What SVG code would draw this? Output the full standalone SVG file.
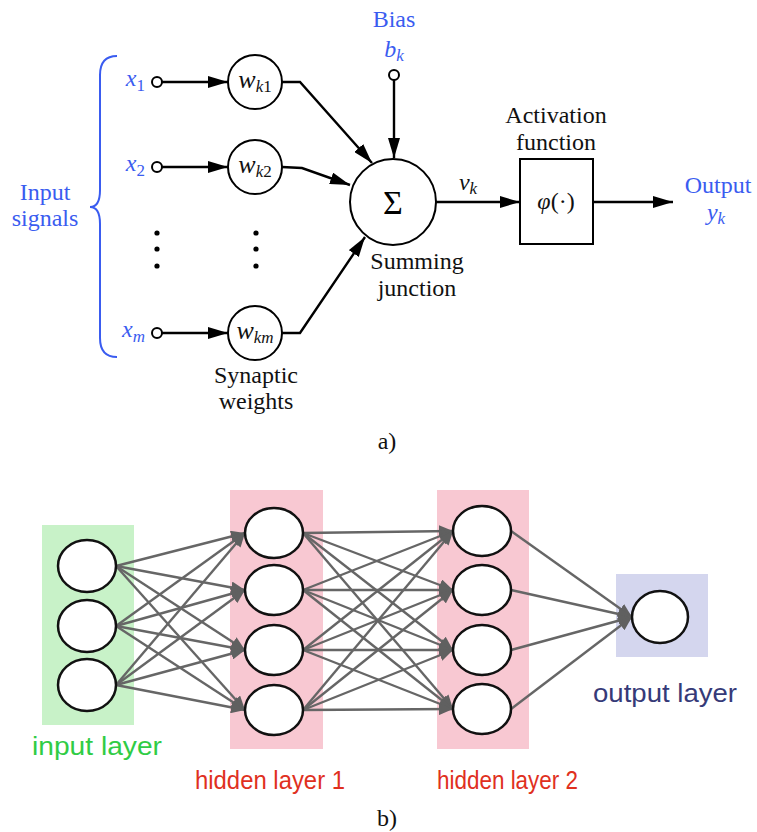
<svg xmlns="http://www.w3.org/2000/svg" width="757" height="832" viewBox="0 0 757 832">
  <defs>
    <marker id="arrowBlack" viewBox="0 0 20 12" refX="20" refY="6" markerWidth="20" markerHeight="12" markerUnits="userSpaceOnUse" orient="auto">
      <path d="M0,0 L20,6 L0,12 Z" fill="#000"/>
    </marker>
    <marker id="arrowGray" viewBox="0 0 14 12" refX="14" refY="6" markerWidth="14" markerHeight="12" markerUnits="userSpaceOnUse" orient="auto">
      <path d="M0,0 L14,6 L0,12 Z" fill="#606060"/>
    </marker>
    <style>
      .serif { font-family: "Liberation Serif", "Times New Roman", serif; font-size: 24px; }
      .blue { fill: #3a5cf0; }
      .ink { fill: #111; }
      .it { font-style: italic; }
      .sub { font-size: 17px; }
      .wlabel { font-size: 26px; }
      .wire { fill: none; stroke: #000; stroke-width: 2.4; }
      .term { fill: #fff; stroke: #000; stroke-width: 2; }
      .unit { fill: #fff; stroke: #000; stroke-width: 2; }
      .edge { fill: none; stroke: #666; stroke-width: 2.4; marker-end: url(#arrowGray); }
      .neuron { fill: #fff; stroke: #111; stroke-width: 2.5; }
      .sans { font-family: "Liberation Sans", Arial, sans-serif; font-size: 25px; }
    </style>
  </defs>

  <!-- ===== a) single neuron model ===== -->
  <g id="input-signals">
    <path d="M117,56 Q100,56 100,75 L100,190 Q100,207 90,207 Q100,207 100,224 L100,338 Q100,357 117,357" fill="none" stroke="#3a5cf0" stroke-width="2"/>
    <text class="serif blue" x="45" y="200" text-anchor="middle">Input</text>
    <text class="serif blue" x="45" y="226" text-anchor="middle">signals</text>
  </g>

  <g id="x1">
    <text class="serif blue" x="145" y="86" text-anchor="end"><tspan class="it">x</tspan><tspan class="sub" dy="5">1</tspan></text>
    <circle class="term" cx="157" cy="82" r="5"/>
  </g>
  <g id="x2">
    <text class="serif blue" x="145" y="171" text-anchor="end"><tspan class="it">x</tspan><tspan class="sub" dy="5">2</tspan></text>
    <circle class="term" cx="157" cy="167" r="5"/>
  </g>
  <g id="xm">
    <text class="serif blue" x="145" y="337" text-anchor="end"><tspan class="it">x</tspan><tspan class="sub it" dy="5">m</tspan></text>
    <circle class="term" cx="157" cy="333" r="5"/>
  </g>

  <g id="ellipsis">
    <circle cx="157" cy="233" r="2.6" fill="#000"/>
    <circle cx="157" cy="249" r="2.6" fill="#000"/>
    <circle cx="157" cy="266" r="2.6" fill="#000"/>
    <circle cx="256" cy="233" r="2.6" fill="#000"/>
    <circle cx="256" cy="249" r="2.6" fill="#000"/>
    <circle cx="256" cy="266" r="2.6" fill="#000"/>
  </g>

  <g id="wk1">
    <circle class="unit" cx="255" cy="82" r="27"/>
    <text class="serif ink" x="255" y="88" text-anchor="middle"><tspan class="it wlabel">w</tspan><tspan class="sub" dy="4"><tspan class="it">k</tspan>1</tspan></text>
  </g>
  <g id="wk2">
    <circle class="unit" cx="255" cy="167" r="27"/>
    <text class="serif ink" x="255" y="173" text-anchor="middle"><tspan class="it wlabel">w</tspan><tspan class="sub" dy="4"><tspan class="it">k</tspan>2</tspan></text>
  </g>
  <g id="wkm">
    <circle class="unit" cx="255" cy="333" r="27"/>
    <text class="serif ink" x="255" y="339" text-anchor="middle"><tspan class="it wlabel">w</tspan><tspan class="sub it" dy="4">km</tspan></text>
  </g>
  <g id="synaptic-label">
    <text class="serif ink" x="256" y="383" text-anchor="middle">Synaptic</text>
    <text class="serif ink" x="256" y="409" text-anchor="middle">weights</text>
  </g>

  <g id="bias">
    <text class="serif blue" x="394" y="27" text-anchor="middle">Bias</text>
    <text class="serif blue it" x="394" y="57" text-anchor="middle">b<tspan class="sub" dy="4">k</tspan></text>
    <circle class="term" cx="394" cy="75" r="5"/>
  </g>

  <g id="summing-junction">
    <circle class="unit" cx="393" cy="202" r="43"/>
    <text x="393" y="214" text-anchor="middle" font-family="Liberation Serif, serif" font-size="34" fill="#000">Σ</text>
    <text class="serif ink" x="417" y="269" text-anchor="middle">Summing</text>
    <text class="serif ink" x="417" y="296" text-anchor="middle">junction</text>
  </g>

  <g id="vk-label">
    <text class="serif ink it" x="468" y="190" text-anchor="middle">v<tspan class="sub" dy="4">k</tspan></text>
  </g>

  <g id="activation">
    <text class="serif ink" x="556" y="123" text-anchor="middle">Activation</text>
    <text class="serif ink" x="556" y="150" text-anchor="middle">function</text>
    <rect x="520" y="159" width="73" height="85" fill="#fff" stroke="#000" stroke-width="2"/>
    <text class="serif ink" x="556" y="209" text-anchor="middle"><tspan class="it">φ</tspan>(·)</text>
  </g>

  <g id="output">
    <text class="serif blue" x="718" y="193" text-anchor="middle">Output</text>
    <text class="serif blue it" x="716" y="220" text-anchor="middle">y<tspan class="sub" dy="4">k</tspan></text>
  </g>

  <g id="neuron-connectors">
    <line class="wire" x1="162" y1="82" x2="228" y2="82" marker-end="url(#arrowBlack)"/>
    <line class="wire" x1="162" y1="167" x2="228" y2="167" marker-end="url(#arrowBlack)"/>
    <line class="wire" x1="162" y1="333" x2="228" y2="333" marker-end="url(#arrowBlack)"/>
    <polyline class="wire" points="282,82 300,82 372,163" marker-end="url(#arrowBlack)"/>
    <polyline class="wire" points="282,167 302,168 350,185" marker-end="url(#arrowBlack)"/>
    <polyline class="wire" points="282,333 300,333 365,237" marker-end="url(#arrowBlack)"/>
    <line class="wire" x1="394" y1="80" x2="394" y2="158" marker-end="url(#arrowBlack)"/>
    <line class="wire" x1="436" y1="202" x2="520" y2="202" marker-end="url(#arrowBlack)"/>
    <line class="wire" x1="593" y1="202" x2="673" y2="202" marker-end="url(#arrowBlack)"/>
  </g>

  <text class="serif ink" x="387" y="449" text-anchor="middle">a)</text>

  <!-- ===== b) multilayer network ===== -->
  <g id="layer-bands">
    <rect x="42" y="525" width="92" height="200" fill="#c8f2c8"/>
    <rect x="230" y="490" width="93" height="259" fill="#f8c8d2"/>
    <rect x="437" y="490" width="92" height="259" fill="#f8c8d2"/>
    <rect x="616" y="574" width="92" height="83" fill="#d4d6ee"/>
  </g>

  <g id="network-connectors">
    <!-- input -> hidden 1 -->
    <line class="edge" x1="116" y1="566" x2="245" y2="533"/>
    <line class="edge" x1="116" y1="566" x2="245" y2="590"/>
    <line class="edge" x1="116" y1="566" x2="245" y2="650"/>
    <line class="edge" x1="116" y1="566" x2="245" y2="710"/>
    <line class="edge" x1="116" y1="626" x2="245" y2="533"/>
    <line class="edge" x1="116" y1="626" x2="245" y2="590"/>
    <line class="edge" x1="116" y1="626" x2="245" y2="650"/>
    <line class="edge" x1="116" y1="626" x2="245" y2="710"/>
    <line class="edge" x1="116" y1="685" x2="245" y2="533"/>
    <line class="edge" x1="116" y1="685" x2="245" y2="590"/>
    <line class="edge" x1="116" y1="685" x2="245" y2="650"/>
    <line class="edge" x1="116" y1="685" x2="245" y2="710"/>
    <!-- hidden 1 -> hidden 2 -->
    <line class="edge" x1="303" y1="533" x2="453" y2="531"/>
    <line class="edge" x1="303" y1="533" x2="453" y2="590"/>
    <line class="edge" x1="303" y1="533" x2="453" y2="650"/>
    <line class="edge" x1="303" y1="533" x2="453" y2="709"/>
    <line class="edge" x1="303" y1="590" x2="453" y2="531"/>
    <line class="edge" x1="303" y1="590" x2="453" y2="590"/>
    <line class="edge" x1="303" y1="590" x2="453" y2="650"/>
    <line class="edge" x1="303" y1="590" x2="453" y2="709"/>
    <line class="edge" x1="303" y1="650" x2="453" y2="531"/>
    <line class="edge" x1="303" y1="650" x2="453" y2="590"/>
    <line class="edge" x1="303" y1="650" x2="453" y2="650"/>
    <line class="edge" x1="303" y1="650" x2="453" y2="709"/>
    <line class="edge" x1="303" y1="710" x2="453" y2="531"/>
    <line class="edge" x1="303" y1="710" x2="453" y2="590"/>
    <line class="edge" x1="303" y1="710" x2="453" y2="650"/>
    <line class="edge" x1="303" y1="710" x2="453" y2="709"/>
    <!-- hidden 2 -> output -->
    <line class="edge" x1="511" y1="531" x2="632" y2="617"/>
    <line class="edge" x1="511" y1="590" x2="632" y2="617"/>
    <line class="edge" x1="511" y1="650" x2="632" y2="617"/>
    <line class="edge" x1="511" y1="709" x2="632" y2="617"/>
  </g>

  <g id="input-layer">
    <ellipse class="neuron" cx="87" cy="566" rx="29" ry="26"/>
    <ellipse class="neuron" cx="87" cy="626" rx="29" ry="26"/>
    <ellipse class="neuron" cx="87" cy="685" rx="29" ry="26"/>
    <text class="sans" x="32" y="755" fill="#30cc45" textLength="130" lengthAdjust="spacingAndGlyphs">input layer</text>
  </g>

  <g id="hidden-layer-1">
    <ellipse class="neuron" cx="274" cy="533" rx="29" ry="25"/>
    <ellipse class="neuron" cx="274" cy="590" rx="29" ry="25"/>
    <ellipse class="neuron" cx="274" cy="650" rx="29" ry="25"/>
    <ellipse class="neuron" cx="274" cy="710" rx="29" ry="25"/>
    <text class="sans" x="195" y="789" fill="#e0301e" textLength="150" lengthAdjust="spacingAndGlyphs">hidden layer 1</text>
  </g>

  <g id="hidden-layer-2">
    <ellipse class="neuron" cx="482" cy="531" rx="29" ry="25"/>
    <ellipse class="neuron" cx="482" cy="590" rx="29" ry="25"/>
    <ellipse class="neuron" cx="482" cy="650" rx="29" ry="25"/>
    <ellipse class="neuron" cx="482" cy="709" rx="29" ry="25"/>
    <text class="sans" x="437" y="789" fill="#e0301e" textLength="141" lengthAdjust="spacingAndGlyphs">hidden layer 2</text>
  </g>

  <g id="output-layer">
    <ellipse class="neuron" cx="660" cy="617" rx="28" ry="26"/>
    <text class="sans" x="593" y="702" fill="#363a78" textLength="144" lengthAdjust="spacingAndGlyphs">output layer</text>
  </g>

  <text class="serif ink" x="387" y="826" text-anchor="middle">b)</text>
</svg>
